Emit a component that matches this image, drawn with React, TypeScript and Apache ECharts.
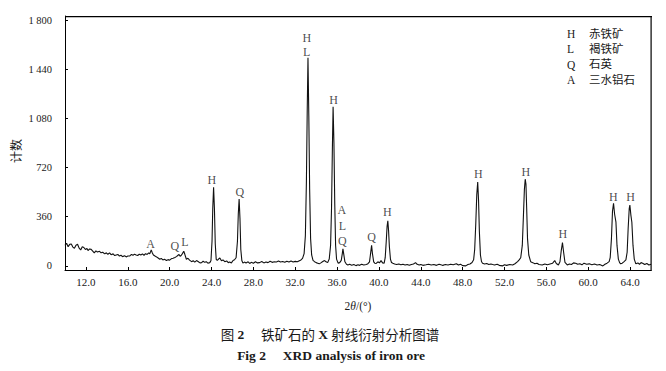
import React, { useEffect, useRef } from "react";
import * as echarts from "echarts";

// ---- Data ----
const xTickValues = [12, 16, 20, 24, 28, 32, 36, 40, 44, 48, 52, 56, 60, 64];
const yTickValues = [0, 360, 720, 1080, 1440, 1800];

// XRD trace: [2θ, counts]
const traceLowAngle: [number, number][] = [
  [10.0, 150], [10.15, 166], [10.3, 141], [10.45, 158], [10.6, 161], [10.75, 138], [10.9, 129],
  [11.05, 152], [11.2, 158], [11.35, 130], [11.5, 117], [11.65, 141], [11.8, 135], [11.95, 120],
  [12.1, 128], [12.2, 112], [12.35, 124], [12.5, 121], [12.65, 108], [12.8, 95], [12.95, 110],
  [13.1, 102], [13.3, 107], [13.45, 96], [13.6, 100], [13.8, 88], [13.95, 96], [14.1, 85],
  [14.26, 95], [14.4, 82], [14.6, 88], [14.75, 76], [14.9, 80], [15.05, 84], [15.2, 72],
  [15.35, 78], [15.5, 68], [15.7, 74], [15.85, 66], [16.0, 72], [16.2, 73], [16.35, 84],
  [16.5, 78], [16.65, 86], [16.8, 80], [16.95, 76], [17.1, 86], [17.25, 80], [17.4, 88],
  [17.55, 78], [17.7, 90], [17.85, 84], [18.0, 95], [18.1, 88], [18.24, 117], [18.35, 95],
  [18.45, 80], [18.6, 72], [18.75, 66], [18.9, 58], [19.06, 49], [19.2, 55], [19.35, 44],
  [19.5, 48], [19.7, 39], [19.85, 46], [20.0, 42], [20.15, 52], [20.33, 56], [20.5, 62],
  [20.65, 68], [20.8, 78], [20.9, 84], [21.0, 70], [21.1, 76], [21.22, 90], [21.35, 108],
  [21.45, 85], [21.6, 49], [21.75, 56], [21.9, 42], [22.1, 31], [22.25, 38], [22.4, 28],
  [22.57, 39], [22.75, 30], [22.9, 22], [23.05, 24], [23.2, 34], [23.35, 26], [23.5, 31],
  [23.65, 20], [23.84, 24],
];

const traceMidAngle: [number, number][] = [
  [23.95, 40], [24.05, 180], [24.12, 420], [24.2, 575], [24.28, 420], [24.36, 160],
  [24.45, 48], [24.55, 40], [24.7, 52], [24.8, 58], [24.95, 38], [25.1, 44], [25.27, 31],
  [25.45, 36], [25.6, 24], [25.74, 28], [25.9, 22], [26.06, 40], [26.2, 45], [26.35, 60],
  [26.48, 180], [26.56, 380], [26.64, 490], [26.72, 350], [26.8, 120], [26.9, 40], [27.0, 20],
  [27.15, 28], [27.3, 22], [27.5, 30], [27.65, 18], [27.8, 26], [28.0, 20], [28.2, 30],
  [28.4, 22], [28.6, 24], [28.8, 32], [29.0, 22], [29.2, 28], [29.4, 24], [29.6, 34],
  [29.8, 26], [30.0, 30], [30.2, 29], [30.4, 36], [30.6, 28], [30.8, 32], [31.0, 26],
  [31.2, 34], [31.4, 28], [31.6, 36], [31.8, 29], [32.0, 33], [32.2, 30], [32.4, 38],
  [32.55, 44], [32.7, 55], [32.85, 90], [32.97, 220], [33.07, 620], [33.15, 1150],
  [33.22, 1525], [33.3, 1100], [33.38, 560], [33.47, 200], [33.57, 80], [33.7, 40],
  [33.85, 31], [34.0, 24], [34.15, 20], [34.3, 15], [34.45, 22], [34.6, 30], [34.8, 39],
  [34.95, 30], [35.1, 24], [35.25, 50], [35.38, 150], [35.47, 420], [35.55, 850],
  [35.62, 1165], [35.7, 900], [35.78, 450], [35.86, 150], [35.95, 50], [36.1, 20],
  [36.25, 24], [36.4, 40], [36.5, 90], [36.56, 125], [36.63, 90], [36.75, 30], [36.9, 12],
  [37.03, 7], [37.2, 12], [37.4, 5], [37.6, 10], [37.8, 2], [38.0, 8], [38.15, 4],
  [38.35, 12], [38.55, 6], [38.8, 10], [38.95, 16], [39.1, 30], [39.2, 90], [39.3, 150],
  [39.38, 90], [39.5, 30], [39.6, 20], [39.74, 18], [39.9, 30], [40.05, 22], [40.2, 39],
  [40.35, 22], [40.5, 20], [40.6, 60], [40.7, 180], [40.78, 290], [40.85, 330], [40.92, 260],
  [41.0, 140], [41.1, 50], [41.2, 25], [41.33, 20], [41.5, 14], [41.7, 10], [41.9, 14],
  [42.1, 8], [42.3, 12], [42.5, 6], [42.7, 10], [42.9, 4], [43.1, 10], [43.3, 14],
  [43.5, 24], [43.65, 12], [43.85, 6], [44.0, 10], [44.2, 4], [44.5, 8], [44.75, 12],
  [45.0, 6], [45.25, 10], [45.5, 4], [45.75, 12], [46.0, 6], [46.1, 4], [46.35, 10],
  [46.6, 6], [46.85, 12], [47.1, 8], [47.4, 16], [47.6, 6], [47.8, 12], [48.0, 2],
  [48.3, 0], [48.5, 10], [48.7, 14], [48.9, 25],
];

const traceHighAngle: [number, number][] = [
  [49.05, 45], [49.15, 120], [49.25, 300], [49.35, 520], [49.44, 615], [49.52, 480],
  [49.6, 250], [49.7, 80], [49.8, 32], [49.9, 20], [50.1, 14], [50.3, 18], [50.5, 10],
  [50.7, 14], [50.87, 10], [51.05, 6], [51.3, 12], [51.5, 4], [51.8, 0], [52.0, 8],
  [52.2, 4], [52.5, 10], [52.78, 7], [53.0, 16], [53.25, 31], [53.4, 44], [53.55, 60],
  [53.7, 150], [53.8, 350], [53.9, 560], [53.98, 635], [54.05, 600], [54.12, 420],
  [54.2, 200], [54.32, 80], [54.5, 31], [54.7, 24], [54.9, 16], [55.1, 20], [55.3, 10],
  [55.6, 7], [55.85, 14], [56.1, 8], [56.35, 14], [56.6, 20], [56.8, 39], [56.95, 18],
  [57.15, 7], [57.3, 30], [57.42, 110], [57.54, 170], [57.65, 100], [57.78, 25], [58.0, 7],
  [58.2, 14], [58.4, 10], [58.6, 22], [58.8, 20], [59.0, 12], [59.2, 16], [59.4, 8],
  [59.6, 20], [59.85, 12], [60.1, 15], [60.35, 8], [60.6, 14], [60.85, 6], [61.1, 10],
  [61.4, 0], [61.6, 12], [61.8, 20], [62.0, 31], [62.1, 60], [62.22, 200], [62.32, 400],
  [62.42, 458], [62.52, 380], [62.65, 320], [62.75, 150], [62.88, 50], [63.0, 24],
  [63.1, 15], [63.25, 20], [63.4, 30], [63.6, 44], [63.72, 100], [63.82, 280], [63.92, 420],
  [63.98, 445], [64.08, 370], [64.17, 320], [64.28, 150], [64.4, 50], [64.55, 15],
  [64.75, 22], [64.9, 12], [65.05, 24], [65.2, 20], [65.4, 10], [65.6, 18], [65.8, 7],
  [66.0, 12],
];

// Peak annotations: phase letters placed at [2θ, counts]
const peakLetterX = [18.18, 20.5, 21.45, 24.03, 26.7, 33.1, 33.1, 35.67, 36.45, 36.5, 36.5, 39.3, 40.8, 49.5, 54.04, 57.57, 62.4, 64.06];
const peakLetterY = [161, 146, 175, 628, 540, 1668, 1570, 1212, 410, 292, 186, 212, 394, 672, 686, 234, 504, 504];
const peakLetters = ["A", "Q", "L", "H", "Q", "H", "L", "H", "A", "L", "Q", "Q", "H", "H", "H", "H", "H", "H"];

const legendKeys = ["H", "L", "Q", "A"];
const legendNames = ["赤铁矿", "褐铁矿", "石英", "三水铝石"];

const captionCn = "铁矿石的";
const captionCn2 = "射线衍射分析图谱";
const captionEn = "XRD analysis of iron ore";

const SERIF = "'Liberation Serif', 'DejaVu Serif', serif";
const CJK = "'Noto Sans CJK SC', sans-serif";
const INK = "#1a1a1a";

function fmtThousands(v: number): string {
  const s = String(v);
  if (s.length <= 3) return s;
  return s.slice(0, s.length - 3) + " " + s.slice(s.length - 3);
}

export default function App() {
  const ref = useRef<HTMLDivElement | null>(null);

  useEffect(() => {
    document.body.style.margin = "0";
    if (!ref.current) return;
    const chart = echarts.init(ref.current, undefined, { renderer: "svg" });

    const trace = [...traceLowAngle, ...traceMidAngle, ...traceHighAngle];
    const annotations = peakLetters.map((t, i) => ({ value: [peakLetterX[i], peakLetterY[i]], name: t }));

    const legendGraphics: any[] = [];
    legendKeys.forEach((k, i) => {
      legendGraphics.push({
        type: "text",
        left: 567,
        top: 28 + i * 15.3,
        style: { text: k, font: `11.5px ${SERIF}`, fill: INK },
      });
      legendGraphics.push({
        type: "text",
        left: 589,
        top: 27 + i * 15.3,
        style: { text: legendNames[i], font: `11.5px ${CJK}`, fill: INK },
      });
    });

    chart.setOption({
      animation: false,
      backgroundColor: "#ffffff",
      grid: {
        left: 65,
        right: 15,
        top: 16,
        bottom: 101,
        show: false,
        containLabel: false,
        outerBoundsMode: "none",
      },
      xAxis: {
        type: "value",
        min: 10,
        max: 66,
        name: "2{i|θ}/(°)",
        nameLocation: "middle",
        nameGap: 30,
        nameTextStyle: {
          fontFamily: SERIF,
          fontSize: 11.5,
          color: INK,
          rich: { i: { fontFamily: SERIF, fontStyle: "italic", fontSize: 11.5, color: INK } },
        },
        axisLine: { onZero: false, lineStyle: { color: "#000", width: 1 } },
        axisTick: { inside: true, length: 3, customValues: xTickValues, lineStyle: { color: "#000" } },
        axisLabel: {
          customValues: xTickValues,
          formatter: (v: number) => v.toFixed(1),
          fontFamily: SERIF,
          fontSize: 11,
          color: INK,
          margin: 6,
        },
        splitLine: { show: false },
      },
      yAxis: {
        type: "value",
        min: -30,
        max: 1830,
        axisLine: { show: true, onZero: false, lineStyle: { color: "#000", width: 1 } },
        axisTick: { show: true, inside: true, length: 3, customValues: yTickValues, lineStyle: { color: "#000" } },
        axisLabel: {
          customValues: yTickValues,
          formatter: (v: number) => fmtThousands(v),
          fontFamily: SERIF,
          fontSize: 10.5,
          color: INK,
          margin: 13,
        },
        splitLine: { show: false },
      },
      series: [
        {
          type: "line",
          data: trace,
          showSymbol: false,
          symbol: "none",
          lineStyle: { color: "#111", width: 1.1 },
          z: 2,
        },
        {
          type: "scatter",
          data: annotations,
          symbolSize: 1,
          itemStyle: { color: "rgba(0,0,0,0)" },
          label: {
            show: true,
            position: "inside",
            formatter: (p: any) => p.name,
            fontFamily: SERIF,
            fontSize: 12,
            lineHeight: 12,
            color: INK,
          },
          z: 3,
        },
      ],
      graphic: [
        {
          type: "rect",
          silent: true,
          left: 65,
          top: 16,
          shape: { width: 587, height: 1.2 },
          style: { fill: "#000" },
          z: 100,
        },
        {
          type: "rect",
          silent: true,
          left: 650.5,
          top: 16,
          shape: { width: 1.2, height: 255 },
          style: { fill: "#000" },
          z: 100,
        },
        {
          type: "text",
          x: 15,
          y: 151,
          rotation: Math.PI / 2,
          style: { text: "计数", font: `12px ${CJK}`, fill: INK, align: "center", verticalAlign: "middle" },
        },
        ...legendGraphics,
        {
          type: "text",
          x: 330,
          y: 334,
          style: {
            text: `{c|图} {b|2}     {c|${captionCn}} {b|X} {c|${captionCn2}}`,
            align: "center",
            verticalAlign: "middle",
            rich: {
              c: { font: `13.5px ${CJK}`, fill: INK },
              b: { font: `bold 13.5px ${SERIF}`, fill: INK },
            },
          },
        },
        {
          type: "text",
          x: 331,
          y: 355,
          style: {
            text: `Fig 2     ${captionEn}`,
            font: `bold 13.5px ${SERIF}`,
            fill: INK,
            align: "center",
            verticalAlign: "middle",
          },
        },
      ],
    });

    return () => {
      chart.dispose();
    };
  }, []);

  return <div ref={ref} style={{ width: 666, height: 371 }} />;
}
